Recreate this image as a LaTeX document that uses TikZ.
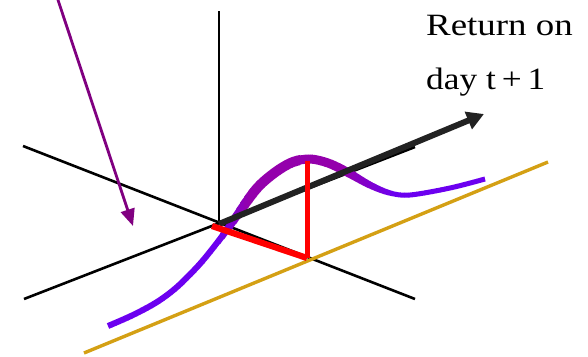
\documentclass[tikz,border=0pt]{standalone}
\usepackage{fontspec}
\setmainfont{Liberation Serif}
\usetikzlibrary{arrows.meta}
\definecolor{cpurple}{RGB}{148,0,172}
\definecolor{cviolet}{RGB}{108,0,240}
\definecolor{cgold}{RGB}{212,160,20}
\definecolor{cdark}{RGB}{34,34,34}
\definecolor{cpointer}{RGB}{128,0,128}
\tikzset{
  axisline/.style={draw=black, line width=2.6pt},
  retarrow/.style={draw=cdark, line width=6pt, -{Triangle[length=17pt,width=18pt]}},
  pointer/.style={draw=cpointer, line width=2.8pt, -{Triangle[length=17pt,width=14pt]}},
  redline/.style={draw=red, line width=6.2pt},
  redvert/.style={draw=red, line width=5pt},
  goldline/.style={draw=cgold, line width=3.4pt},
  lbl/.style={anchor=base west, inner sep=0pt, font=\fontsize{31}{31}\selectfont}
}
\begin{document}
\begin{tikzpicture}[x=1pt,y=-1pt]
\useasboundingbox (0,0) rectangle (588,356);
% coordinates
\coordinate (O) at (219,224);
\coordinate (vtop) at (219,11);
\coordinate (a1) at (23,146);
\coordinate (a2) at (415,299);
\coordinate (b1) at (24,299);
\coordinate (b2) at (415,147);
\coordinate (g1) at (84,353);
\coordinate (g2) at (548,162);
\coordinate (tipR) at (484,114);
\coordinate (r0) at (212,226);
\coordinate (r1) at (307,258);
\coordinate (r2) at (307,161);
\coordinate (p0) at (57,-3);
\coordinate (p1) at (133,226);
% axes
\draw[axisline] (vtop) -- (O);
\draw[axisline] (a1) -- (a2);
\draw[axisline] (b1) -- (b2);
% gold line
\draw[goldline] (g1) -- (g2);
% curve with gradient
\def\curvepath{plot[smooth, tension=0.55] coordinates {(108,326) (133,315) (157,302) (177,287) (198,266) (213,248) (228,228) (247,201) (260,185) (277,171) (293,162) (310,159) (328,163) (347,172) (370,185) (390,193) (410,195) (450,188) (485,179)}}
\foreach \xa in {100,104,...,492} {
  \pgfmathsetmacro\w{max(0,min(1,min((\xa-216)/30,(392-\xa)/50)))}
  \pgfmathsetmacro\lw{((\xa<300)?6:5)+4*\w}
  \pgfmathtruncatemacro\pc{100*\w}
  \begin{scope}
    \clip (\xa,0) rectangle ++(4.4,356);
    \draw[line width=\lw pt, color=cpurple!\pc!cviolet] \curvepath;
  \end{scope}
}
% return arrow
\draw[retarrow] (O) -- (tipR);
% red lines
\draw[redline] (r0) -- (r1);
\draw[redvert] (r1) -- (r2);
% pointer
\draw[pointer] (p0) -- (p1);
% labels
\node[lbl] (t1) at (426,35) {\scalebox{1.19}[1]{Return on}};
\node[lbl] (t2) at (426,89) {\scalebox{1.14}[1]{day t\,+\,1}};
\end{tikzpicture}
\end{document}
